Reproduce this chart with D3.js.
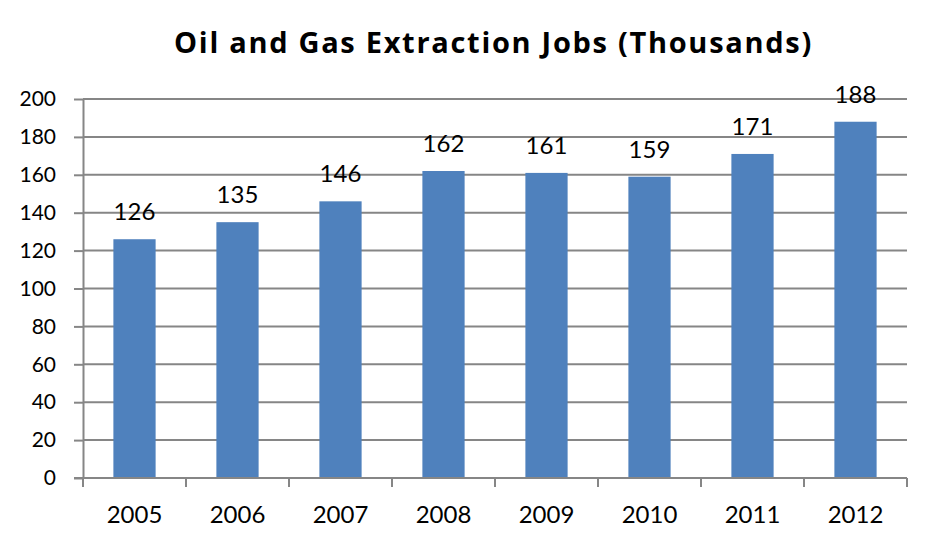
<!DOCTYPE html>
<html>
<head>
<meta charset="utf-8">
<script src="https://cdn.jsdelivr.net/npm/d3@7"></script>
<style>
  html, body { margin: 0; padding: 0; background: #fff; }
  svg { display: block; }
</style>
</head>
<body>
<svg id="chart" width="932" height="543"></svg>
<script>
const title = "Oil and Gas Extraction Jobs (Thousands)";
const years = ["2005", "2006", "2007", "2008", "2009", "2010", "2011", "2012"];
const jobs = [126, 135, 146, 162, 161, 159, 171, 188];
const yTicks = [0, 20, 40, 60, 80, 100, 120, 140, 160, 180, 200];

const plotL = 83, plotR = 907, plotT = 99, plotB = 478;
const gridColor = "#868686";
const barColor = "#4F81BD";
const font = "Lato, 'Open Sans', sans-serif";
const titleFont = "'Open Sans', Lato, sans-serif";

const svg = d3.select("#chart");

const y = d3.scaleLinear().domain([0, 200]).range([plotB, plotT]);
const xAxisScale = d3.scaleBand().domain(years).range([plotL, plotR]).padding(0);
const xBar = d3.scaleBand().domain(years).range([plotL, plotR]).paddingInner(0.59).paddingOuter(0.295);

// gridlines
svg.append("g").selectAll("line").data(yTicks.filter(d => d > 0)).join("line")
  .attr("x1", plotL).attr("x2", plotR)
  .attr("y1", d => y(d)).attr("y2", d => y(d))
  .attr("stroke", gridColor).attr("stroke-width", 2);

// bars
svg.append("g").selectAll("rect").data(jobs).join("rect")
  .attr("x", (d, i) => xBar(years[i]))
  .attr("width", xBar.bandwidth())
  .attr("y", d => y(d))
  .attr("height", d => y(0) - y(d))
  .attr("fill", barColor);

// y axis
const yAxis = svg.append("g").attr("transform", `translate(${plotL},0)`)
  .call(d3.axisLeft(y).tickValues(yTicks).tickSize(9).tickPadding(18).tickSizeOuter(0));
yAxis.select(".domain").attr("stroke", gridColor).attr("stroke-width", 2);
yAxis.selectAll(".tick line").attr("stroke", gridColor).attr("stroke-width", 2);
yAxis.selectAll(".tick text").attr("font-family", font).attr("font-size", 21).attr("fill", "#000");

// x axis line
svg.append("line").attr("x1", plotL - 9).attr("x2", plotR).attr("y1", y(0)).attr("y2", y(0))
  .attr("stroke", gridColor).attr("stroke-width", 2);
// x ticks at category boundaries
const bounds = years.map(d => xAxisScale(d)).concat([xAxisScale.range()[1]]);
svg.append("g").selectAll("line").data(bounds).join("line")
  .attr("x1", d => d).attr("x2", d => d)
  .attr("y1", y(0)).attr("y2", y(0) + 9)
  .attr("stroke", gridColor).attr("stroke-width", 2);
// x labels
svg.append("g").selectAll("text").data(years).join("text")
  .attr("x", d => xAxisScale(d) + xAxisScale.bandwidth() / 2)
  .attr("y", 522.5)
  .attr("text-anchor", "middle")
  .attr("font-family", font).attr("font-size", 24).attr("fill", "#000")
  .text(d => d);

// data labels
svg.append("g").selectAll("text").data(jobs).join("text")
  .attr("x", (d, i) => xBar(years[i]) + xBar.bandwidth() / 2)
  .attr("y", d => y(d) - 19)
  .attr("text-anchor", "middle")
  .attr("font-family", font).attr("font-size", 24).attr("fill", "#000")
  .text(d => d);

// title
svg.append("text")
  .attr("x", 493.5).attr("y", 53)
  .attr("text-anchor", "middle")
  .attr("font-family", titleFont).attr("font-weight", "bold").attr("font-size", 29)
  .attr("letter-spacing", 1.7).attr("fill", "#000")
  .text(title);
</script>
</body>
</html>
